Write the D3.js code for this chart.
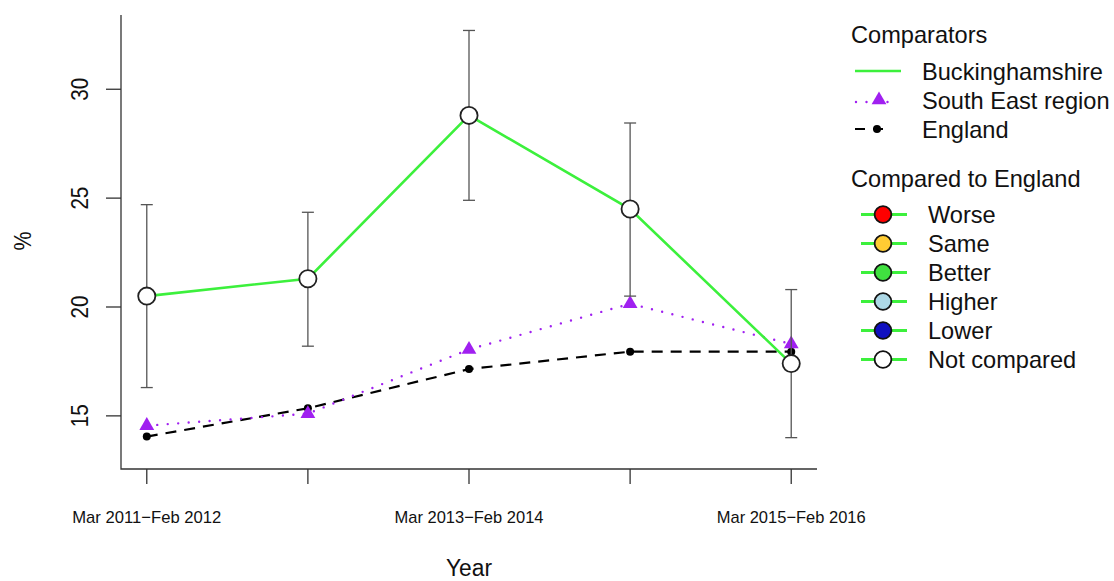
<!DOCTYPE html>
<html>
<head>
<meta charset="utf-8">
<script src="https://cdn.jsdelivr.net/npm/d3@7"></script>
<style>
  html, body { margin: 0; padding: 0; background: #fff; }
  svg { display: block; font-family: "Liberation Sans", Arial, sans-serif; }
</style>
</head>
<body>
<svg id="chart" width="1114" height="581"></svg>
<script>
// Periods on the x axis (only every other label fits)
const periods = ["Mar 2011\u2212Feb 2012", "Mar 2012\u2212Feb 2013", "Mar 2013\u2212Feb 2014", "Mar 2014\u2212Feb 2015", "Mar 2015\u2212Feb 2016"];
const periodLabels = ["Mar 2011\u2212Feb 2012", "", "Mar 2013\u2212Feb 2014", "", "Mar 2015\u2212Feb 2016"];

// Buckinghamshire value with 95% confidence interval
const bucksValue = [20.5, 21.3, 28.8, 24.5, 17.4];
const bucksLower = [16.3, 18.2, 24.9, 20.5, 14.0];
const bucksUpper = [24.7, 24.35, 32.7, 28.45, 20.8];

// Comparator series
const southEast = [14.55, 15.1, 18.05, 20.15, 18.3];
const england = [14.05, 15.35, 17.15, 17.95, 17.95];

const yTicks = [15, 20, 25, 30];

// Legend entries
const comparatorNames = ["Buckinghamshire", "South East region", "England"];
const compareNames = ["Worse", "Same", "Better", "Higher", "Lower", "Not compared"];
const compareFills = ["#ff0000", "#ffcc33", "#40e040", "#add8e6", "#1010c0", "#ffffff"];

const GREEN = "#3cf03c", PURPLE = "#a020f0";

const svg = d3.select("#chart");

const plotL = 121, plotR = 817, plotT = 15, plotB = 469;

const x = d3.scaleLinear().domain([0.84, 5.16]).range([plotL, plotR]);
const y = d3.scaleLinear().domain([12.56, 33.41]).range([plotB, plotT]);

// Plot frame: left and bottom only
svg.append("path")
  .attr("d", `M${plotL},${plotT}V${plotB}H${plotR}`)
  .attr("fill", "none").attr("stroke", "#333").attr("stroke-width", 1.3);

// y axis (condensed rotated labels)
const yAxis = svg.append("g");
yAxis.selectAll("line").data(yTicks).join("line")
  .attr("x1", plotL - 15).attr("x2", plotL)
  .attr("y1", d => y(d)).attr("y2", d => y(d))
  .attr("stroke", "#333").attr("stroke-width", 1.3);
yAxis.selectAll("text").data(yTicks).join("text")
  .attr("transform", d => `translate(88,${y(d)}) rotate(-90)`)
  .attr("text-anchor", "middle")
  .attr("font-size", 24).attr("fill", "#111")
  .attr("textLength", 23).attr("lengthAdjust", "spacingAndGlyphs")
  .text(d => d);

// x axis
const idx = d3.range(1, periods.length + 1);
const xAxis = svg.append("g");
xAxis.selectAll("line").data(idx).join("line")
  .attr("x1", d => x(d)).attr("x2", d => x(d))
  .attr("y1", plotB).attr("y2", plotB + 15)
  .attr("stroke", "#333").attr("stroke-width", 1.3);
xAxis.selectAll("text").data(idx.filter((d, i) => periodLabels[i])).join("text")
  .attr("x", d => x(d)).attr("y", 523)
  .attr("text-anchor", "middle")
  .attr("font-size", 17).attr("fill", "#111")
  .attr("textLength", 149).attr("lengthAdjust", "spacingAndGlyphs")
  .text(d => periodLabels[d - 1]);

// Axis titles
svg.append("text")
  .attr("x", 469).attr("y", 576).attr("text-anchor", "middle")
  .attr("font-size", 23).attr("fill", "#111")
  .attr("textLength", 46).attr("lengthAdjust", "spacingAndGlyphs")
  .text("Year");
svg.append("text")
  .attr("transform", "translate(31,241) rotate(-90)")
  .attr("text-anchor", "middle")
  .attr("font-size", 24).attr("fill", "#111")
  .attr("textLength", 19).attr("lengthAdjust", "spacingAndGlyphs")
  .text("%");

const line = d3.line().x((d, i) => x(i + 1)).y(d => y(d));

// England: dashed black with dots
svg.append("path").datum(england).attr("d", line)
  .attr("fill", "none").attr("stroke", "#000").attr("stroke-width", 2.2)
  .attr("stroke-dasharray", "11,8");
svg.append("g").selectAll("circle").data(england).join("circle")
  .attr("cx", (d, i) => x(i + 1)).attr("cy", d => y(d)).attr("r", 4)
  .attr("fill", "#000");

// South East: dotted purple with triangles
svg.append("path").datum(southEast).attr("d", line)
  .attr("fill", "none").attr("stroke", PURPLE).attr("stroke-width", 2.4)
  .attr("stroke-dasharray", "0,10.5").attr("stroke-linecap", "round");
const tri = d3.symbol().type(d3.symbolTriangle).size(95);
svg.append("g").selectAll("path").data(southEast).join("path")
  .attr("transform", (d, i) => `translate(${x(i + 1)},${y(d)})`)
  .attr("d", tri).attr("fill", PURPLE);

// Buckinghamshire: error bars, line, open circles
const eb = svg.append("g").attr("stroke", "#555").attr("stroke-width", 1.3);
bucksValue.forEach((v, i) => {
  const cx = x(i + 1);
  eb.append("line").attr("x1", cx).attr("x2", cx).attr("y1", y(bucksLower[i])).attr("y2", y(bucksUpper[i]));
  eb.append("line").attr("x1", cx - 6).attr("x2", cx + 6).attr("y1", y(bucksLower[i])).attr("y2", y(bucksLower[i]));
  eb.append("line").attr("x1", cx - 6).attr("x2", cx + 6).attr("y1", y(bucksUpper[i])).attr("y2", y(bucksUpper[i]));
});
svg.append("path").datum(bucksValue).attr("d", line)
  .attr("fill", "none").attr("stroke", GREEN).attr("stroke-width", 2.6);
svg.append("g").selectAll("circle").data(bucksValue).join("circle")
  .attr("cx", (d, i) => x(i + 1)).attr("cy", d => y(d)).attr("r", 8.6)
  .attr("fill", "#fff").attr("stroke", "#222").attr("stroke-width", 1.8);

// Legend: comparators
const lg = svg.append("g").attr("font-size", 23.6).attr("fill", "#111");
lg.append("text").attr("x", 851).attr("y", 43).text("Comparators");
const compY = [71, 100, 129];
comparatorNames.forEach((name, i) => {
  lg.append("text").attr("x", 922).attr("y", compY[i] + 8.5).text(name);
});
lg.append("line").attr("x1", 855).attr("x2", 901).attr("y1", compY[0]).attr("y2", compY[0])
  .attr("stroke", GREEN).attr("stroke-width", 2.6);
lg.append("line").attr("x1", 856).attr("x2", 893).attr("y1", compY[1] + 2).attr("y2", compY[1] + 2)
  .attr("stroke", PURPLE).attr("stroke-width", 2.4).attr("stroke-dasharray", "0,10.5").attr("stroke-linecap", "round");
lg.append("path").attr("transform", `translate(879,${compY[1]})`).attr("d", tri).attr("fill", PURPLE);
lg.append("line").attr("x1", 855).attr("x2", 889).attr("y1", compY[2]).attr("y2", compY[2])
  .attr("stroke", "#000").attr("stroke-width", 2.2).attr("stroke-dasharray", "10,8");
lg.append("circle").attr("cx", 877).attr("cy", compY[2]).attr("r", 4).attr("fill", "#000");

// Legend: compared to England
lg.append("text").attr("x", 851).attr("y", 187).text("Compared to England");
compareNames.forEach((name, i) => {
  const cy = 214.5 + i * 29;
  lg.append("line").attr("x1", 861).attr("x2", 907).attr("y1", cy).attr("y2", cy)
    .attr("stroke", GREEN).attr("stroke-width", 3);
  lg.append("circle").attr("cx", 883).attr("cy", cy).attr("r", 8.4)
    .attr("fill", compareFills[i]).attr("stroke", "#111").attr("stroke-width", 1.8);
  lg.append("text").attr("x", 928).attr("y", cy + 8.7).text(name);
});
</script>
</body>
</html>
